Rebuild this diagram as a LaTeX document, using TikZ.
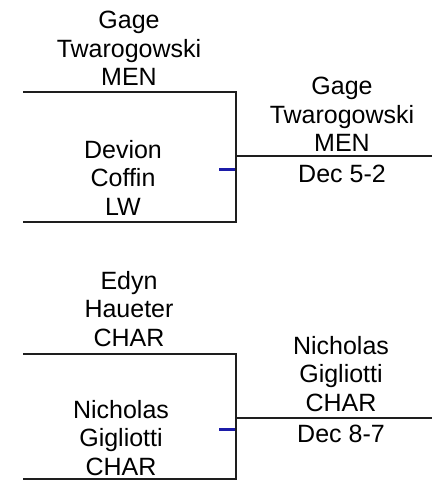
\documentclass[tikz,border=0pt]{standalone}
\usepackage{fontspec}
\setmainfont{Liberation Sans}
\usepackage{xcolor}
\usepackage{tikz}
\definecolor{bkline}{HTML}{1E1E1E}
\definecolor{bktick}{HTML}{1C1CA8}

\begin{document}
\begin{tikzpicture}[x=1pt,y=-1pt,
    wrestler/.style={align=center, inner sep=0pt, anchor=base,
                     font=\fontsize{25}{28.5}\selectfont},
    wire/.style={line width=1.7pt, bkline},
    tickmark/.style={line width=3pt, bktick}]
  \useasboundingbox (0,0) rectangle (432,481);

  % ================= bout 1: Twarogowski v Coffin =================
  \node[wrestler] (topA) at (129,86) {Gage\\Twarogowski\\MEN};
  \node[wrestler] (botA) at (123,215) {Devion\\Coffin\\LW};
  \node[wrestler] (winA) at (342,152) {Gage\\Twarogowski\\MEN};
  \node[wrestler] (resA) at (342,182) {Dec 5-2};

  \coordinate (inA) at (23,92);
  \coordinate (cnA) at (236,92);
  \coordinate (cbA) at (236,222);
  \coordinate (ibA) at (23,222);
  \coordinate (jnA) at (236,156);
  \coordinate (outA) at (432,156);
  \draw[wire] (inA) -- (cnA) -- (cbA) -- (ibA);
  \draw[wire] (jnA) -- (outA);
  \coordinate (tkA) at (219,169);
  \draw[tickmark] (tkA) -- ++(16,0);

  % ================= bout 2: Haueter v Gigliotti =================
  \node[wrestler] (topB) at (129,346) {Edyn\\Haueter\\CHAR};
  \node[wrestler] (botB) at (121,475) {Nicholas\\Gigliotti\\CHAR};
  \node[wrestler] (winB) at (341,411) {Nicholas\\Gigliotti\\CHAR};
  \node[wrestler] (resB) at (341,442) {Dec 8-7};

  \coordinate (inB) at (23,354);
  \coordinate (cnB) at (236,354);
  \coordinate (cbB) at (236,479);
  \coordinate (ibB) at (23,479);
  \coordinate (jnB) at (236,418);
  \coordinate (outB) at (432,418);
  \draw[wire] (inB) -- (cnB) -- (cbB) -- (ibB);
  \draw[wire] (jnB) -- (outB);
  \coordinate (tkB) at (219,429);
  \draw[tickmark] (tkB) -- ++(16,0);
\end{tikzpicture}
\end{document}
